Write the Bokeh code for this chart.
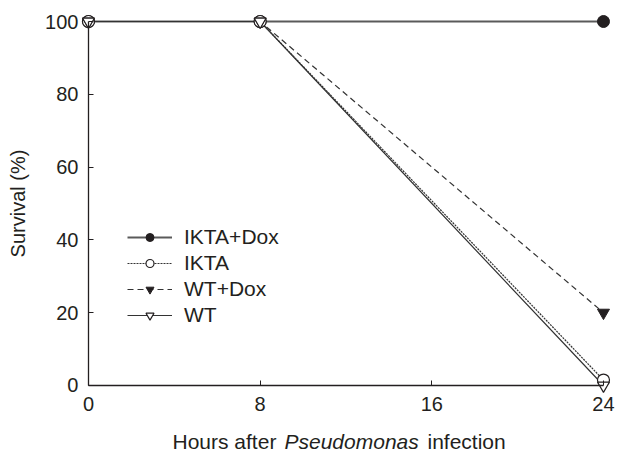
from bokeh.plotting import figure
from bokeh.models import Range1d, FixedTicker, Legend, LegendItem, Label
from bokeh.embed import file_html
from bokeh.resources import INLINE

hours = [0, 8, 24]
ikta_dox = [100, 100, 100]
ikta = [100, 100, 1.5]
wt_dox = [100, 100, 20]
wt = [100, 100, 0]
series_names = ["IKTA+Dox", "IKTA", "WT+Dox", "WT"]
x_ticks = [0, 8, 16, 24]
y_ticks = [0, 20, 40, 60, 80, 100]

FONT = "Liberation Sans"
TXT = "#231f20"

# the frame fills the whole canvas; axes sit at data zero inside it
p = figure(width=618, height=452, output_backend="svg", toolbar_location=None,
           x_range=Range1d(-4.10, 24.70), y_range=Range1d(-18.41, 105.77),
           min_border_left=0, min_border_right=0, min_border_top=0, min_border_bottom=0)
p.outline_line_color = None
p.grid.grid_line_color = None
p.background_fill_color = "white"

r1l = p.line(hours, ikta_dox, line_color="#5a5a5a", line_width=2)
r2l = p.line(hours, ikta, line_color="#333333", line_width=1.2, line_dash="2 1")
r3l = p.line(hours, wt_dox, line_color="#333333", line_width=1.2, line_dash="6 4")
r4l = p.line(hours, wt, line_color="#333333", line_width=1.2)

r1m = p.scatter(hours, ikta_dox, marker="circle", size=12, fill_color="#231f20", line_color="#231f20")
r2m = p.scatter(hours, ikta, marker="circle", size=12, fill_color="white", line_color="#231f20", line_width=1.2)
r3m = p.scatter(hours, wt_dox, marker="inverted_triangle", size=12, fill_color="#231f20", line_color="#231f20")
r4m = p.scatter(hours, wt, marker="inverted_triangle", size=12, fill_color="white", line_color="#231f20", line_width=1.2)

legend = Legend(items=[
    LegendItem(label=series_names[0], renderers=[r1l, r1m]),
    LegendItem(label=series_names[1], renderers=[r2l, r2m]),
    LegendItem(label=series_names[2], renderers=[r3l, r3m]),
    LegendItem(label=series_names[3], renderers=[r4l, r4m]),
], location=(127, 125), padding=0, margin=0, spacing=2, glyph_width=45, glyph_height=20,
    label_height=20, label_standoff=12, border_line_color=None, background_fill_alpha=0,
    label_text_font=FONT, label_text_font_size="21px", label_text_color=TXT)
p.add_layout(legend)

for ax in (p.xaxis[0], p.yaxis[0]):
    ax.fixed_location = 0
    ax.axis_line_color = "#231f20"
    ax.axis_line_width = 1.3
    ax.major_tick_in = 5
    ax.major_tick_out = 0
    ax.major_tick_line_color = "#231f20"
    ax.minor_tick_line_color = None
    ax.major_label_text_font = FONT
    ax.major_label_text_font_size = "20px"
    ax.major_label_text_color = TXT

p.xaxis.ticker = FixedTicker(ticks=x_ticks)
p.yaxis.ticker = FixedTicker(ticks=y_ticks)
p.xaxis.bounds = (0, 24)
p.yaxis.bounds = (0, 100)
p.xaxis.major_label_standoff = 12
p.yaxis.major_label_standoff = 10

p.yaxis.axis_label = "Survival (%)"
p.yaxis.axis_label_text_font = FONT
p.yaxis.axis_label_text_font_size = "20px"
p.yaxis.axis_label_text_font_style = "normal"
p.yaxis.axis_label_text_color = TXT
p.yaxis.axis_label_standoff = 13

# x axis title with italic genus name
parts = [("Hours after", "normal", 172), ("Pseudomonas", "italic", 284), ("infection", "normal", 427)]
for txt, style, sx in parts:
    p.add_layout(Label(x=sx, y=11, x_units="screen", y_units="screen", text=txt,
                       text_font=FONT, text_font_size="21px", text_font_style=style,
                       text_color=TXT, text_baseline="alphabetic", text_align="left"))

open("out.html", "w").write(file_html(p, INLINE))
